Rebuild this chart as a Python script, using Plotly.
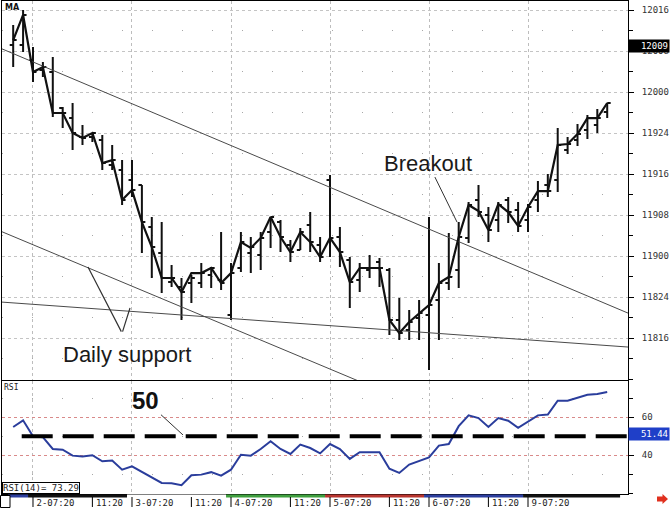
import plotly.graph_objects as go

# 40-minute T-bond futures bars (session 07:20-14:00), oldest first; prices in points
open_ = [120.287, 120.287, 120.195, 120.134, 120.122, 119.902, 119.841, 119.726, 119.726, 119.707,
         119.555, 119.524, 119.463, 119.433, 119.177, 119.018, 118.841, 118.811, 118.835, 118.835,
         118.884, 118.854, 118.640, 118.927, 119.018, 119.006, 119.146, 119.207, 119.067, 119.037,
         119.189, 119.067, 119.463, 119.116, 118.976, 118.854, 118.915, 118.963, 118.915, 118.610,
         118.549, 118.622, 118.640, 118.732, 118.835, 118.915, 119.110, 119.341, 119.250, 119.220,
         119.341, 119.280, 119.220, 119.341, 119.433, 119.463, 119.646, 119.707, 119.768, 119.799,
         119.878]
high = [120.409, 120.500, 120.274, 120.183, 120.213, 119.909, 119.933, 119.799, 119.750, 119.738,
        119.677, 119.585, 119.585, 119.433, 119.238, 119.207, 118.945, 118.866, 118.884, 118.957,
        118.933, 119.146, 118.957, 119.146, 119.116, 119.146, 119.238, 119.220, 119.098, 119.171,
        119.268, 119.116, 119.494, 119.177, 118.994, 118.957, 119.006, 118.988, 118.927, 118.744,
        118.671, 118.732, 119.238, 118.957, 119.140, 119.207, 119.329, 119.433, 119.299, 119.329,
        119.360, 119.329, 119.317, 119.457, 119.500, 119.780, 119.726, 119.805, 119.860, 119.896,
        119.933]
low = [120.152, 120.244, 120.061, 120.091, 119.848, 119.780, 119.646, 119.677, 119.695, 119.524,
       119.524, 119.311, 119.360, 119.018, 118.866, 118.774, 118.811, 118.610, 118.713, 118.805,
       118.805, 118.793, 118.610, 118.902, 118.896, 118.915, 119.049, 119.024, 118.963, 119.037,
       119.024, 118.963, 118.994, 118.933, 118.683, 118.780, 118.866, 118.811, 118.518, 118.488,
       118.488, 118.488, 118.305, 118.488, 118.793, 118.805, 119.079, 119.238, 119.085, 119.146,
       119.201, 119.146, 119.146, 119.268, 119.360, 119.390, 119.622, 119.671, 119.713, 119.750,
       119.841]
close = [120.317, 120.470, 120.122, 120.152, 119.872, 119.872, 119.750, 119.720, 119.750, 119.567,
         119.585, 119.341, 119.402, 119.207, 119.055, 118.866, 118.866, 118.780, 118.866, 118.896,
         118.927, 118.835, 118.896, 119.085, 119.055, 119.110, 119.238, 119.116, 119.024, 119.146,
         119.085, 118.994, 119.110, 119.024, 118.841, 118.927, 118.927, 118.927, 118.610, 118.530,
         118.598, 118.652, 118.701, 118.835, 118.872, 119.116, 119.311, 119.268, 119.159, 119.311,
         119.268, 119.183, 119.299, 119.396, 119.396, 119.677, 119.683, 119.744, 119.841, 119.841,
         119.933]
ma = [120.317, 120.470, 120.122, 120.152, 119.872, 119.872, 119.750, 119.720, 119.750, 119.567,
      119.585, 119.341, 119.402, 119.207, 119.055, 118.866, 118.866, 118.780, 118.896, 118.896,
      118.927, 118.835, 118.896, 119.085, 119.049, 119.110, 119.238, 119.116, 119.024, 119.146,
      119.085, 118.994, 119.110, 119.024, 118.841, 118.927, 118.927, 118.927, 118.610, 118.530,
      118.598, 118.652, 118.701, 118.835, 118.872, 119.116, 119.311, 119.274, 119.159, 119.317,
      119.268, 119.183, 119.299, 119.396, 119.396, 119.677, 119.683, 119.744, 119.841, 119.841,
      119.933]
rsi = [54.9, 58.4, 50.0, 49.5, 43.3, 42.9, 39.8, 39.3, 40.0, 36.8,
       37.2, 32.4, 34.2, 31.2, 28.1, 25.4, 25.3, 24.2, 29.5, 29.8,
       31.1, 29.3, 32.4, 40.3, 39.8, 43.3, 47.4, 43.3, 40.7, 45.6,
       43.8, 41.0, 45.9, 43.3, 38.1, 41.6, 41.6, 41.6, 32.9, 30.7,
       35.1, 36.8, 38.9, 45.1, 45.9, 55.3, 61.0, 59.6, 54.9, 59.6,
       58.2, 54.4, 57.9, 61.0, 61.4, 68.7, 68.7, 70.5, 71.9, 72.3,
       73.29]
bars = list(range(len(close)))

# price scale in 32nds
price_ticks = [118.5, 118.75, 119.0, 119.25, 119.5, 119.75, 120.0, 120.25, 120.5]
price_labels = ["11816", "11824", "11900", "11908", "11916", "11924", "12000", "12008", "12016"]
rsi_ticks = [40, 60]
rsi_labels = ["40", "60"]

# session markers (bar numbers)
session_ticks = [2, 8, 12, 18, 22, 28, 32, 38, 42, 48, 52]
session_labels = ["2-07:20", "11:20", "3-07:20", "11:20", "4-07:20", "11:20",
                  "5-07:20", "11:20", "6-07:20", "11:20", "9-07:20"]
day_starts = [2, 12, 22, 32, 42, 52]
day_edges = [-0.5, 1.5, 11.5, 21.5, 31.5, 41.5, 51.5, 61.3]
day_colors = ["#2c3e9e", "#111111", "#ffffff", "#3f9f3f", "#b8352f", "#2c3e9e", "#111111"]

# hand-drawn trend lines (bar number, price)
resistance_x, resistance_y = [-1.13, 62.1], [120.263, 118.652]
channel_x, channel_y = [-1.13, 62.1], [119.148, 117.55]
support_x, support_y = [-1.13, 62.1], [118.719, 118.445]

quote_marker = 120.28125      # 120-09
rsi_marker = 51.44
rsi_level = 50
rsi_last = 73.29

X_RANGE = [-1.13, 62.1]
MONO = "DejaVu Sans Mono"
SANS = "Liberation Sans"
W, H = 670, 508
ML, MR, MT, MB = 2, 42, 1, 14


def px_x(px):
    return (px - ML) / (W - ML - MR)


def px_y(py):
    return (H - MB - py) / (H - MT - MB)


fig = go.Figure()

for tx, ty in [(resistance_x, resistance_y), (channel_x, channel_y), (support_x, support_y)]:
    fig.add_trace(go.Scatter(x=tx, y=ty, mode="lines", line=dict(color="#4a4a4a", width=1),
                             hoverinfo="skip", showlegend=False, xaxis="x", yaxis="y"))

fig.add_trace(go.Scatter(x=bars, y=ma, mode="lines", line=dict(color="#111", width=2.2),
                         hoverinfo="skip", showlegend=False, xaxis="x", yaxis="y"))

fig.add_trace(go.Ohlc(x=bars, open=open_, high=high, low=low, close=close,
                      increasing=dict(line=dict(color="#111", width=2)),
                      decreasing=dict(line=dict(color="#111", width=2)),
                      tickwidth=0.35, hoverinfo="skip", showlegend=False,
                      xaxis="x", yaxis="y"))

fig.add_trace(go.Scatter(x=bars, y=rsi, mode="lines", line=dict(color="#2a3d9c", width=2),
                         hoverinfo="skip", showlegend=False, xaxis="x2", yaxis="y2"))

main_bottom = px_y(380)
rsi_top = px_y(381)

fig.update_layout(
    width=W, height=H,
    margin=dict(l=ML, r=MR, t=MT, b=MB, autoexpand=False),
    paper_bgcolor="white", plot_bgcolor="white",
    showlegend=False,
    xaxis=dict(domain=[0, 1], anchor="y", range=X_RANGE, rangeslider=dict(visible=False),
               tickmode="array", tickvals=day_starts, showticklabels=False, ticks="",
               showgrid=True, gridcolor="#bdbdbd", griddash="dot", gridwidth=1,
               automargin=False,
               zeroline=False, showline=True, linecolor="#000", linewidth=1, mirror=True),
    yaxis=dict(domain=[main_bottom, 1], anchor="x", side="right", range=[118.244, 120.555],
               tickmode="array", tickvals=price_ticks, ticktext=price_labels,
               ticks="outside", ticklen=5, tickcolor="#000", ticklabelstandoff=6,
               tickfont=dict(family=MONO, size=9, color="#333"), automargin=False,
               showgrid=True, gridcolor="#c4c4c4", griddash="dot", gridwidth=1,
               minor=dict(tickmode="linear", tick0=118.5, dtick=0.125, ticks="outside", ticklen=4,
                          tickcolor="#000", showgrid=True, gridcolor="#a8a8a8",
                          griddash="1px,29px"),
               zeroline=False, showline=True, linecolor="#000", linewidth=1, mirror=True),
    xaxis2=dict(domain=[0, 1], anchor="y2", range=X_RANGE,
                tickmode="array", tickvals=session_ticks, ticktext=session_labels,
                ticks="", ticklabelposition="outside right", ticklabelshift=3, tickangle=0,
                tickfont=dict(family=MONO, size=9, color="#222"), automargin=False,
                showgrid=False,
                minor=dict(tickmode="array", tickvals=day_starts, ticks="", showgrid=True,
                           gridcolor="#bdbdbd", griddash="dot"),
                zeroline=False, showline=True, linecolor="#000", linewidth=1, mirror=True),
    yaxis2=dict(domain=[0, rsi_top], anchor="x2", side="right", range=[19.6, 79.1],
                tickmode="array", tickvals=rsi_ticks, ticktext=rsi_labels,
                ticks="outside", ticklen=5, tickcolor="#000", ticklabelstandoff=6,
                tickfont=dict(family=MONO, size=9, color="#333"), automargin=False,
                showgrid=True, gridcolor="#d98a8a", griddash="dot", gridwidth=1,
                minor=dict(tickmode="linear", tick0=0, dtick=10, ticks="outside", ticklen=4,
                           tickcolor="#000", showgrid=True, gridcolor="#a8a8a8",
                           griddash="1px,29px"),
                zeroline=False, showline=True, linecolor="#000", linewidth=1, mirror=True),
)

shapes = []
# RSI 50 reference line
shapes.append(dict(type="line", xref="x2", yref="y2", x0=0.86, x1=X_RANGE[1],
                   y0=rsi_level, y1=rsi_level, line=dict(color="#000", width=4, dash="31px,10px")))
# coloured day strip under the time axis
for i, col in enumerate(day_colors):
    shapes.append(dict(type="rect", xref="x2", yref="paper", x0=day_edges[i], x1=day_edges[i + 1],
                       y0=px_y(497.5), y1=px_y(494.5), line=dict(width=0), fillcolor=col))
# session separators
for t in session_ticks:
    shapes.append(dict(type="line", xref="x2", yref="paper", x0=t, x1=t,
                       y0=px_y(507), y1=px_y(497), line=dict(color="#000", width=1)))
# small box bottom-left
shapes.append(dict(type="rect", xref="paper", yref="paper", x0=px_x(0.5), x1=px_x(10),
                   y0=px_y(507.5), y1=px_y(495.5), line=dict(color="#000", width=1),
                   fillcolor="white"))
# scroll arrow bottom-right
arrow_pts = [(657, 496.5), (662.5, 496.5), (662.5, 494), (668, 499), (662.5, 504),
             (662.5, 501.5), (657, 501.5)]
path = "M " + " L ".join(f"{px_x(a):.5f},{px_y(b):.5f}" for a, b in arrow_pts) + " Z"
shapes.append(dict(type="path", xref="paper", yref="paper", path=path,
                   fillcolor="#e0301e", line=dict(width=0)))
fig.update_layout(shapes=shapes)

annotations = [
    dict(text="<b>MA</b>", xref="paper", yref="paper", x=px_x(3), y=px_y(1), xanchor="left",
         yanchor="top", showarrow=False, font=dict(family="DejaVu Sans", size=8, color="#111")),
    dict(text="RSI", xref="paper", yref="paper", x=px_x(2), y=px_y(381), xanchor="left",
         yanchor="top", showarrow=False, font=dict(family=MONO, size=8, color="#222")),
    dict(text=f"RSI(14)= {rsi_last:.2f}", xref="paper", yref="paper", x=0, y=px_y(493.5),
         xanchor="left", yanchor="bottom", showarrow=False, bgcolor="white",
         bordercolor="#000", borderwidth=1, borderpad=0,
         font=dict(family=MONO, size=9, color="#222")),
    dict(text="12009", xref="paper", yref="y", x=1, y=quote_marker, xanchor="left",
         showarrow=False, bgcolor="#000", width=38, align="right", borderpad=1,
         font=dict(family=MONO, size=9, color="white")),
    dict(text=f"{rsi_marker:.2f}", xref="paper", yref="y2", x=1, y=rsi_marker, xanchor="left",
         showarrow=False, bgcolor="#1f3fc8", width=38, align="right", borderpad=1,
         font=dict(family=MONO, size=9, color="white")),
    dict(text="Breakout", xref="x", yref="y", x=44.83, y=119.207, ax=-29, ay=-59,
         showarrow=True, arrowhead=0, arrowwidth=1, arrowcolor="#333",
         font=dict(family=SANS, size=22, color="#1a1a1a")),
    dict(text="Daily support", xref="x", yref="y", x=11.49, y=118.402, showarrow=False,
         font=dict(family=SANS, size=22, color="#1a1a1a")),
    dict(text="", xref="x", yref="y", x=7.556, y=118.933, axref="x", ayref="y",
         ax=11.0, ay=118.530, showarrow=True, arrowhead=0, arrowwidth=1.2, arrowcolor="#333"),
    dict(text="", xref="x", yref="y", x=11.80, y=118.683, axref="x", ayref="y",
         ax=11.0, ay=118.530, showarrow=True, arrowhead=0, arrowwidth=1.2, arrowcolor="#333"),
    dict(text="<b>50</b>", xref="x2", yref="y2", x=17.15, y=50.7, ax=-37, ay=-34,
         showarrow=True, arrowhead=0, arrowwidth=1, arrowcolor="#333",
         font=dict(family="Liberation Sans Narrow, Liberation Sans", size=24, color="#111")),
]
fig.update_layout(annotations=annotations)

fig.write_html("out.html")
